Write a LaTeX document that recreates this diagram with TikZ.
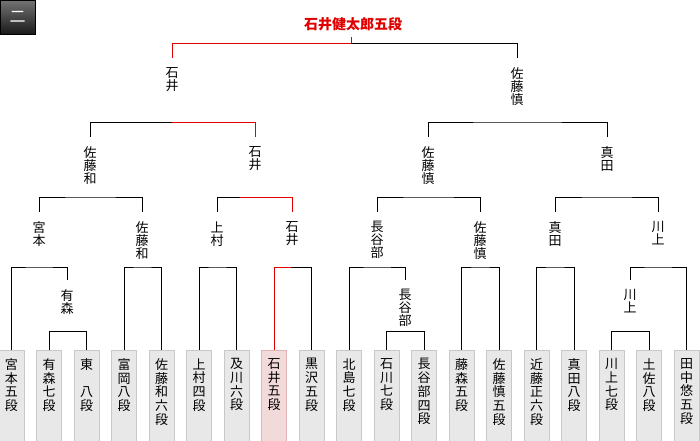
\documentclass[tikz,border=0pt]{standalone}
\usepackage{fontspec}
\setmainfont{Noto Sans CJK JP}
\usetikzlibrary{positioning}

\definecolor{winred}{HTML}{E00000}
\definecolor{boxfill}{HTML}{E8E8E8}
\definecolor{boxline}{HTML}{C8C8C8}
\definecolor{winfill}{HTML}{F3DADA}
\definecolor{winline}{HTML}{E0B4B4}

\begin{document}
\begin{tikzpicture}[x=1pt, y=-1pt, line width=1pt,
      win/.style={draw=winred},
      lbl/.style={font=\fontsize{13}{13}\selectfont, align=center,
                  inner xsep=0pt, inner ysep=9pt, anchor=north},
      player/.style={draw=boxline, fill=boxfill, minimum width=25pt,
                     minimum height=95pt, inner sep=0pt, anchor=north},
      wplayer/.style={player, draw=winline, fill=winfill},
      pname/.style={font=\fontsize{13}{13.7}\selectfont, align=center,
                    inner xsep=0pt, inner ysep=8pt, anchor=north}]

    \useasboundingbox (0,0) rectangle (700,440);

    % round badge
    \shade[top color=black!55, bottom color=black!90, draw=black] (0.5,0.5) rectangle (35,34);
    \node[text=white, font=\fontsize{16}{16}\selectfont, inner sep=0pt] (badge) at (17.5,17) {二};

    % champion
    \node[font=\fontsize{14}{14}\bfseries\selectfont, text=winred, inner xsep=0pt,
          inner ysep=6pt, anchor=south] (title) at (353,37) {石井健太郎五段};

    % players
    \foreach \i/\nm/\st in {1/{宮\\本\\五\\段}/player, 2/{有\\森\\七\\段}/player,
        3/{東\\~\\八\\段}/player, 4/{富\\岡\\八\\段}/player,
        5/{佐\\藤\\和\\六\\段}/player, 6/{上\\村\\四\\段}/player,
        7/{及\\川\\六\\段}/player, 8/{石\\井\\五\\段}/wplayer,
        9/{黒\\沢\\五\\段}/player, 10/{北\\島\\七\\段}/player,
        11/{石\\川\\七\\段}/player, 12/{長\\谷\\部\\四\\段}/player,
        13/{藤\\森\\五\\段}/player, 14/{佐\\藤\\慎\\五\\段}/player,
        15/{近\\藤\\正\\六\\段}/player, 16/{真\\田\\八\\段}/player,
        17/{川\\上\\七\\段}/player, 18/{土\\佐\\八\\段}/player,
        19/{田\\中\\悠\\五\\段}/player} {
      \node[\st] (b\i) at ({37.5*\i-26},350) {};
      \node[pname] (n\i) at (b\i.north) {\nm};
    }

    % winners, final and semifinal
    \node[lbl] (s1) at (172,58) {石\\井};
    \node[lbl] (s2) at (517,58) {佐\\藤\\慎};
    \node[lbl] (q1) at (90,137) {佐\\藤\\和};
    \node[lbl] (q2) at (255,137) {石\\井};
    \node[lbl] (q3) at (428,137) {佐\\藤\\慎};
    \node[lbl] (q4) at (607,137) {真\\田};

    % winners, second round
    \node[lbl] (r1) at (39,212) {宮\\本};
    \node[lbl] (r2) at (142,212) {佐\\藤\\和};
    \node[lbl] (r3) at (217,212) {上\\村};
    \node[lbl] (r4) at (292,212) {石\\井};
    \node[lbl] (r5) at (377,212) {長\\谷\\部};
    \node[lbl] (r6) at (480,212) {佐\\藤\\慎};
    \node[lbl] (r7) at (555,212) {真\\田};
    \node[lbl] (r8) at (658,212) {川\\上};

    % winners, preliminary
    \node[lbl] (p1) at (67,280) {有\\森};
    \node[lbl] (p2) at (405,280) {長\\谷\\部};
    \node[lbl] (p3) at (630,280) {川\\上};

    % bracket joints
    \coordinate (jt) at (351,43);
    \coordinate (ja) at (172,122);
    \coordinate (jb) at (517,122);
    \coordinate (jc) at (90,197);
    \coordinate (jd) at (240,197);
    \coordinate (je) at (428,197);
    \coordinate (jf) at (607,197);
    \coordinate (j1) at (39,267);
    \coordinate (j2) at (142,267);
    \coordinate (j3) at (217,267);
    \coordinate (j4) at (291,267);
    \coordinate (j5) at (377,267);
    \coordinate (j6) at (480,267);
    \coordinate (j7) at (555,267);
    \coordinate (j8) at (658,267);
    \coordinate (j9) at (67,331);
    \coordinate (j10) at (405,331);
    \coordinate (j11) at (630,331);

    % final
    \draw[win] (s1.north) |- (jt) -- (jt |- title.south);
    \draw (jt) -| (s2.north);

    % semifinals
    \draw (q1.north) |- (ja);
    \draw[win] (ja) -| (q2.north);
    \draw (q3.north) |- (jb) -| (q4.north);

    % second round
    \draw (r1.north) |- (jc) -| (r2.north);
    \draw (r3.north) |- (jd);
    \draw[win] (jd) -| (r4.north);
    \draw (r5.north) |- (je) -| (r6.north);
    \draw (r7.north) |- (jf) -| (r8.north);

    % first round
    \draw (b1.north) |- (j1) -| (p1.north);
    \draw (b4.north) |- (j2) -| (b5.north);
    \draw (b6.north) |- (j3) -| (b7.north);
    \draw[win] (b8.north) |- (j4);
    \draw (j4) -| (b9.north);
    \draw (b10.north) |- (j5) -| (p2.north);
    \draw (b13.north) |- (j6) -| (b14.north);
    \draw (b15.north) |- (j7) -| (b16.north);
    \draw (p3.north) |- (j8) -| (b19.north);

    % preliminary
    \draw (b2.north) |- (j9) -| (b3.north);
    \draw (b11.north) |- (j10) -| (b12.north);
    \draw (b17.north) |- (j11) -| (b18.north);

\end{tikzpicture}
\end{document}
